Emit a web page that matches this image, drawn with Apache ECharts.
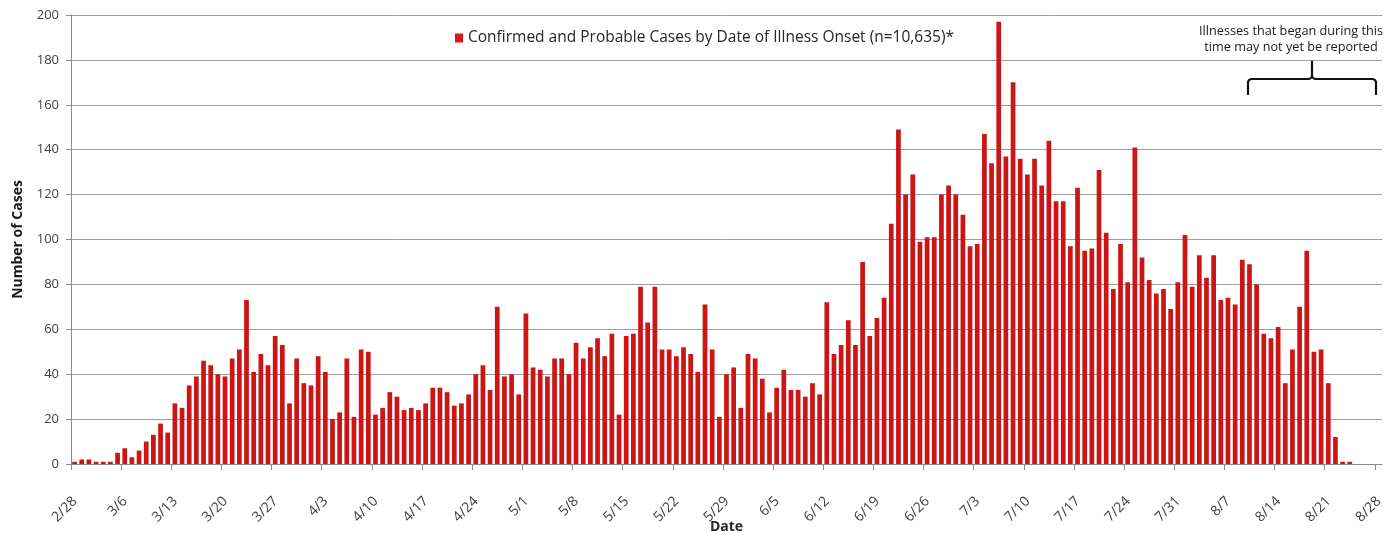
<!DOCTYPE html>
<html><head><meta charset="utf-8">
<script src="https://cdn.jsdelivr.net/npm/echarts@6/dist/echarts.min.js"></script>
<style>html,body{margin:0;padding:0;background:#fff}#c{width:1398px;height:535px}</style>
</head><body><div id="c"></div>
<script>
// ---- data ----
const firstDay = [2020, 1, 28];   // Feb 28, 2020
const dayCount = 183;             // through Aug 28
const dates = [];
for (let i = 0; i < dayCount; i++) {
  const d = new Date(firstDay[0], firstDay[1], firstDay[2] + i);
  dates.push((d.getMonth() + 1) + '/' + d.getDate());
}
const tickLabels = ['2/28','3/6','3/13','3/20','3/27','4/3','4/10','4/17','4/24','5/1','5/8','5/15','5/22','5/29',
  '6/5','6/12','6/19','6/26','7/3','7/10','7/17','7/24','7/31','8/7','8/14','8/21','8/28'];
const cases = [
  1,2,2,1,1,1,5,7,3,6,10,13,18,14,27,25,35,39,46,44,40,39,47,51,
  73,41,49,44,57,53,27,47,36,35,48,41,20,23,47,21,51,50,22,25,32,30,
  24,25,24,27,34,34,32,26,27,31,40,44,33,70,39,40,31,67,43,42,39,47,47,
  40,54,47,52,56,48,58,22,57,58,79,63,79,51,51,48,52,49,41,71,51,21,40,
  43,25,49,47,38,23,34,42,33,33,30,36,31,72,49,53,64,53,90,57,65,74,107,
  149,120,129,99,101,101,120,124,120,111,97,98,147,134,197,137,170,136,129,136,124,144,117,
  117,97,123,95,96,131,103,78,98,81,141,92,82,76,78,69,81,102,79,93,83,93,73,
  74,71,91,89,80,58,56,61,36,51,70,95,50,51,36,12,1,1,0,0,0,0
];
const yTicks = [0, 200, 20]; // min, max, step
const seriesName = 'Confirmed and Probable Cases by Date of Illness Onset (n=10,635)*';
const noteLines = ['Illnesses that began during this', 'time may not yet be reported'];
const yTitle = 'Number of Cases';
const xTitle = 'Date';

// ---- chart ----
const FONT = 'Open Sans';
const tickIdx = tickLabels.map(l => dates.indexOf(l));
const labelShift = 0.55; // rotated labels end slightly right of their tick
const chart = echarts.init(document.getElementById('c'), null, {renderer: 'canvas'});
chart.setOption({
  animation: false,
  backgroundColor: '#ffffff',
  textStyle: {fontFamily: FONT},
  grid: {left: 71, right: 16, top: 15, bottom: 71, containLabel: false, outerBoundsMode: 'none'},
  legend: {
    left: 455, top: 30, padding: 0, icon: 'rect', itemWidth: 8, itemHeight: 9, itemGap: 5,
    textStyle: {fontFamily: FONT, fontSize: 15.5, color: '#262626'},
    data: [{name: seriesName, itemStyle: {color: '#e3151b'}}]
  },
  xAxis: [
    {
      type: 'category', data: dates, boundaryGap: true,
      axisLine: {show: true, lineStyle: {color: '#8c8c8c', width: 1}},
      axisTick: {show: false}, axisLabel: {show: false}, splitLine: {show: false}
    },
    {
      type: 'value', position: 'bottom', min: 0, max: dayCount,
      axisLine: {show: false},
      axisTick: {show: true, length: 6, customValues: tickIdx, lineStyle: {color: '#8c8c8c'}},
      axisLabel: {show: false},
      splitLine: {show: false},
      name: xTitle, nameLocation: 'middle', nameGap: 56,
      nameTextStyle: {fontFamily: FONT, fontSize: 14, fontWeight: 'bold', color: '#262626'}
    },
    {
      type: 'value', position: 'bottom', offset: 15, min: -labelShift, max: dayCount - labelShift,
      axisLine: {show: false}, axisTick: {show: false}, splitLine: {show: false},
      axisLabel: {customValues: tickIdx, formatter: v => dates[v], rotate: 45, margin: 20,
        fontFamily: FONT, fontSize: 14, color: '#404040'}
    }
  ],
  yAxis: {
    type: 'value', min: yTicks[0], max: yTicks[1], interval: yTicks[2],
    axisLine: {show: true, lineStyle: {color: '#8c8c8c'}},
    axisTick: {show: true, length: 5, lineStyle: {color: '#8c8c8c'}},
    axisLabel: {fontFamily: FONT, fontSize: 13, color: '#404040', margin: 12},
    splitLine: {lineStyle: {color: '#9e9e9e', width: 1}},
    name: yTitle, nameLocation: 'middle', nameGap: 46, nameRotate: 90,
    nameTextStyle: {fontFamily: FONT, fontSize: 14, fontWeight: 'bold', color: '#1a1a1a'}
  },
  series: [{
    name: seriesName, type: 'bar', xAxisIndex: 0, data: cases,
    barCategoryGap: '34%',
    itemStyle: {color: '#cc1616'}
  }],
  graphic: [
    {type: 'text', x: 1291, y: 31, style: {text: noteLines[0], fontFamily: FONT, fontSize: 12.7, fill: '#1a1a1a', align: 'center', verticalAlign: 'middle'}},
    {type: 'text', x: 1291, y: 47, style: {text: noteLines[1], fontFamily: FONT, fontSize: 12.7, fill: '#1a1a1a', align: 'center', verticalAlign: 'middle'}},
    {type: 'polyline', shape: {points: [[1248,95],[1248,82],[1249,80],[1251,79],[1309,79],[1311,78],[1312,76],[1312,60]]},
     style: {fill: null, stroke: '#111111', lineWidth: 2.2}},
    {type: 'polyline', shape: {points: [[1312,76],[1313,78],[1315,79],[1373,79],[1375,80],[1376,82],[1376,95]]},
     style: {fill: null, stroke: '#111111', lineWidth: 2.2}}
  ]
});
</script></body></html>
